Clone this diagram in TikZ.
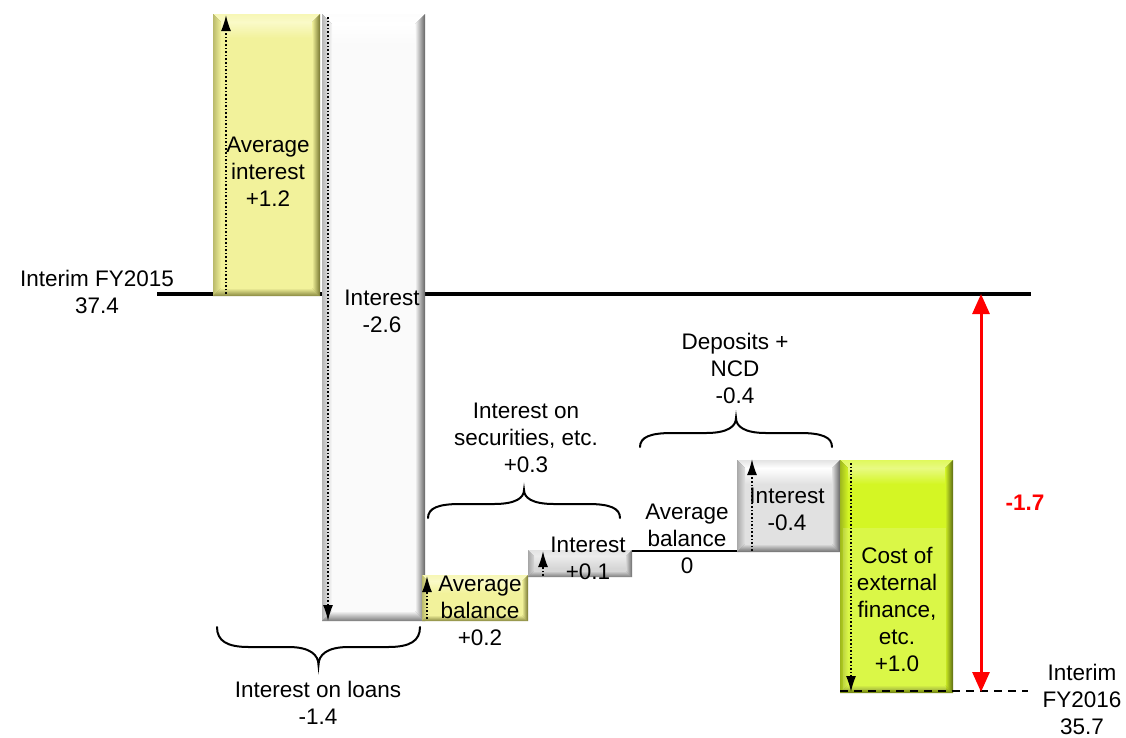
\documentclass[tikz,border=0pt]{standalone}
\usepackage{fontspec}
\setmainfont{Liberation Sans}
\usetikzlibrary{arrows.meta,calc}

\definecolor{yelface}{RGB}{242,242,155}
\definecolor{yellight}{RGB}{250,250,200}
\definecolor{yeldark}{RGB}{118,118,48}
\definecolor{grnface}{RGB}{212,246,36}
\definecolor{grnlight}{RGB}{232,250,130}
\definecolor{grndark}{RGB}{92,106,20}
\definecolor{whtface}{RGB}{250,250,250}
\definecolor{whtlight}{RGB}{255,255,255}
\definecolor{whtdark}{RGB}{100,100,100}
\definecolor{gryface}{RGB}{214,214,214}
\definecolor{grylight}{RGB}{236,236,236}
\definecolor{grydark}{RGB}{108,108,108}

% bevelled bar: name, x1, y1, x2, y2, face, light, dark, bevel width
\newcommand{\bevelbar}[9]{%
  \path (#2,#3) coordinate (#1-nw) (#4,#5) coordinate (#1-se);
  \fill[#8] (#2,#3) rectangle (#4,#5);
  \fill[#6] ({#2+#9},{#3+#9}) rectangle ({#4-#9},{#5-#9});
  \shade[top color=#7, bottom color=#6] ({#2+#9},{#3+#9}) rectangle ({#4-#9},{#3+3*#9});
  \shade[top color=#7!60!#6, bottom color=#7] (#2,#3) -- (#4,#3) -- ({#4-#9},{#3+#9}) -- ({#2+#9},{#3+#9}) -- cycle;
  \shade[left color=#6!55!#8, right color=#6] (#2,#3) -- ({#2+#9},{#3+#9}) -- ({#2+#9},{#5-#9}) -- (#2,#5) -- cycle;
  \shade[left color=#6, right color=#8] (#4,#3) -- (#4,#5) -- ({#4-#9},{#5-#9}) -- ({#4-#9},{#3+#9}) -- cycle;
  \shade[top color=#6, bottom color=#8!85!#6] (#2,#5) -- (#4,#5) -- ({#4-#9},{#5-#9}) -- ({#2+#9},{#5-#9}) -- cycle;
}
% curly brace: x left, x right, y of the ends, y of the flat part, y of the tip
\newcommand{\cbrace}[5]{%
  \pgfmathsetmacro{\bm}{(#1+#2)/2}%
  \pgfmathsetmacro{\bq}{#3+0.7*(#4-#3)}%
  \pgfmathsetmacro{\bt}{#4+0.45*(#5-#4)}%
  \draw[bracestyle] (#1,#3) .. controls (#1,\bq) and ({#1+10},#4) .. ({#1+32},#4)
    -- ({\bm-30},#4) .. controls ({\bm-8},#4) and (\bm,\bt) .. (\bm,#5)
    .. controls (\bm,\bt) and ({\bm+8},#4) .. ({\bm+30},#4)
    -- ({#2-32},#4) .. controls ({#2-10},#4) and (#2,\bq) .. (#2,#3);
}

\tikzset{
  lbl/.style={font=\fontsize{22.5}{27}\selectfont, align=center, inner sep=0pt},
  moveline/.style={dotted, line width=1.6pt, -{Latex[length=16pt,width=10pt]}},
  bracestyle/.style={line width=2pt, line cap=round},
  levelline/.style={line width=3.2pt},
  gapline/.style={line width=2.2pt, dash pattern=on 8pt off 6pt},
  totalarrow/.style={red, line width=3pt, {Triangle[length=20pt,width=17pt]}-{Triangle[length=20pt,width=17pt]}},
}

\begin{document}
\begin{tikzpicture}[x=1pt, y=-1pt]
\useasboundingbox (0,0) rectangle (1126,737);

% level of the starting value
\coordinate (l0) at (157,294);
\coordinate (l1) at (1031,294);
\draw[levelline] (l0) -- (l1);

% bars of the bridge
\bevelbar{avgint}{213}{14}{320}{296}{yelface}{yellight}{yeldark}{8}
\bevelbar{intloan}{322}{14}{425}{621}{whtface}{whtlight}{whtdark}{10}
\bevelbar{avgbal}{422}{575}{528}{621}{yelface}{yellight}{yeldark}{6}
\bevelbar{intsec}{528}{550}{632}{577}{gryface}{grylight}{grydark}{6}
\bevelbar{intdep}{737}{460}{840}{552}{whtface!90!black}{whtlight}{whtdark}{8}
\bevelbar{extfin}{840}{460}{953}{693}{grnface}{grnlight}{grndark}{8}
\fill[white, opacity=0.16] (843,528) rectangle (946,690);

% flat step for the deposit balance
\coordinate (b0) at (632,551);
\coordinate (b1) at (737,551);
\draw[line width=2.2pt] (b0) -- (b1);

% direction of each move
\coordinate (a0) at (226,294); \coordinate (a1) at (226,15);
\coordinate (c0) at (328,17);  \coordinate (c1) at (328,621);
\coordinate (d0) at (427,619); \coordinate (d1) at (427,576);
\coordinate (e0) at (543,576); \coordinate (e1) at (543,551);
\coordinate (f0) at (752,551); \coordinate (f1) at (752,459);
\coordinate (g0) at (851,463); \coordinate (g1) at (851,692);
\draw[moveline] (a0) -- (a1);
\draw[moveline] (c0) -- (c1);
\draw[moveline] (d0) -- (d1);
\draw[moveline] (e0) -- (e1);
\draw[moveline] (f0) -- (f1);
\draw[moveline] (g0) -- (g1);

% level of the closing value and the total change
\coordinate (m0) at (840,691);
\coordinate (m1) at (1028,691);
\draw[gapline] (m0) -- (m1);
\coordinate (r0) at (981,294);
\coordinate (r1) at (981,692);
\draw[totalarrow] (r0) -- (r1);

% braces grouping the moves
\cbrace{217}{420}{627}{647}{665}
\cbrace{428}{620}{518}{504}{490}
\cbrace{640}{832}{447}{433}{418}

% labels
\node[lbl] (t2015) at (97,292) {Interim FY2015\\37.4};
\node[lbl] (tavgint) at (268,172) {Average\\interest\\+1.2};
\node[lbl] (tintloan) at (382,311) {Interest\\-2.6};
\node[lbl] (tloans) at (318,703) {Interest on loans\\-1.4};
\node[lbl] (tsec) at (526,438) {Interest on\\securities, etc.\\+0.3};
\node[lbl] (tavgbal) at (480,611) {Average\\balance\\+0.2};
\node[lbl] (tintsec) at (588,558) {Interest\\+0.1};
\node[lbl] (tdepbal) at (687,539) {Average\\balance\\0};
\node[lbl] (tdep) at (735,368) {Deposits +\\NCD\\-0.4};
\node[lbl] (tintdep) at (787,509) {Interest\\-0.4};
\node[lbl] (text) at (897,609) {Cost of\\external\\finance,\\etc.\\+1.0};
\node[lbl] (t2016) at (1082,699) {Interim\\FY2016\\35.7};
\node[lbl, red, font=\fontsize{22.5}{27}\selectfont\bfseries] (ttotal) at (1025,503) {-1.7};
\end{tikzpicture}
\end{document}
